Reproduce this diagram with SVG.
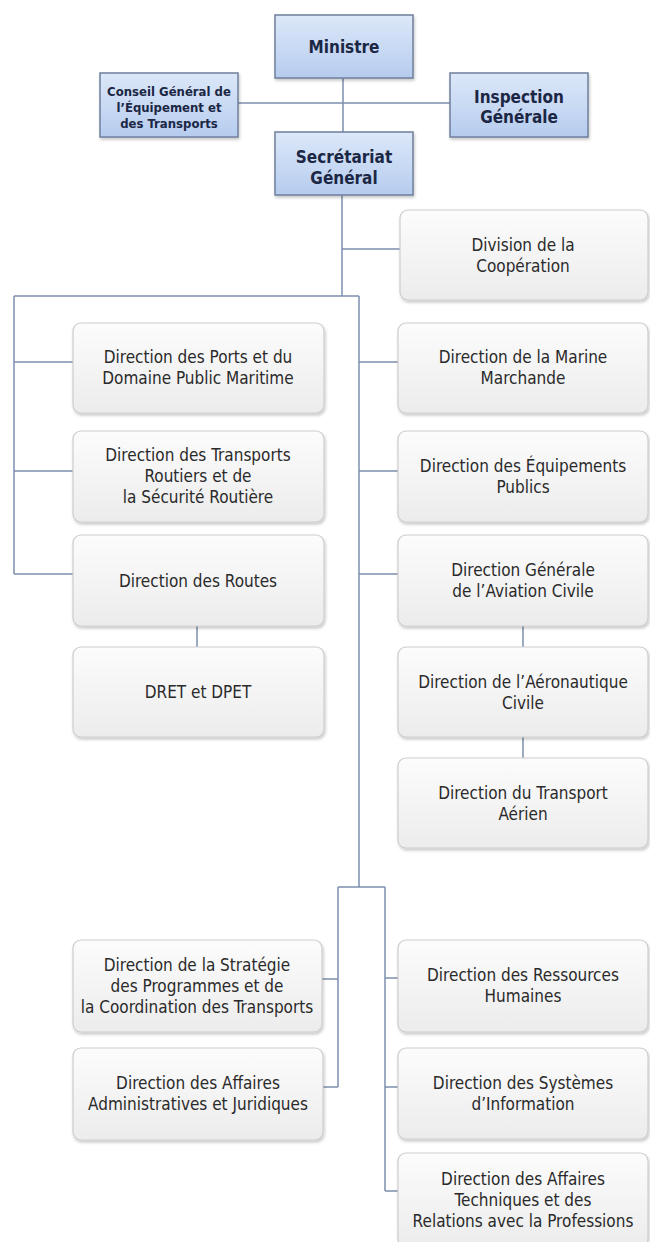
<svg xmlns="http://www.w3.org/2000/svg" width="650" height="1242" viewBox="0 0 650 1242">
<defs>
<linearGradient id="gBlue" x1="0" y1="0" x2="0" y2="1">
<stop offset="0" stop-color="#dce8f9"/>
<stop offset="1" stop-color="#b6ccee"/>
</linearGradient>
<linearGradient id="gWhite" x1="0" y1="0" x2="0" y2="1">
<stop offset="0" stop-color="#fcfcfc"/>
<stop offset="1" stop-color="#ececec"/>
</linearGradient>
<filter id="sh" x="-10%" y="-10%" width="125%" height="130%">
<feDropShadow dx="1" dy="2" stdDeviation="1.5" flood-color="#000" flood-opacity="0.22"/>
</filter>
<style>
.blue{fill:url(#gBlue);stroke:#6f7f9c;stroke-width:1.5;filter:url(#sh)}
.box{fill:url(#gWhite);stroke:#cdcdcd;stroke-width:1.2;filter:url(#sh)}
.bt{font-family:"DejaVu Sans Condensed","DejaVu Sans",sans-serif;font-stretch:condensed;font-weight:bold;font-size:17px;fill:#1b2744;text-anchor:middle}
.bs{font-family:"DejaVu Sans Condensed","DejaVu Sans",sans-serif;font-stretch:condensed;font-weight:bold;font-size:13px;fill:#1b2744;text-anchor:middle}
.t{font-family:"DejaVu Sans Condensed","DejaVu Sans",sans-serif;font-stretch:condensed;font-size:17px;fill:#2a2a2a;text-anchor:middle}
.c{fill:none;stroke:#7d90ae;stroke-width:1.5}
</style>
</defs>
<rect width="650" height="1242" fill="#fff"/>
<g id="connectors" class="c">
<path d="M343 78V132M238 103H450"/>
<path d="M342 195V296M342 249H400M14 296H359"/>
<path d="M14 296V574M14 362H73M14 471H73M14 574H73"/>
<path d="M359 296V887M359 362H398M359 471H398M359 574H398"/>
<path d="M197 626V647M523 626V647M523 737V758"/>
<path d="M338 887H385M338 887V1087M322 979H338M323 1087H338"/>
<path d="M385 887V1191M385 978H398M385 1087H398M385 1191H398"/>
</g>
<g id="ministre"><rect class="blue" x="275" y="15" width="138" height="63"/><text class="bt" x="344" y="53">Ministre</text></g>
<g id="conseil"><rect class="blue" x="100" y="73" width="138" height="64"/><text class="bs"><tspan x="169" y="96">Conseil Général de</tspan><tspan x="169" y="112">l’Équipement et</tspan><tspan x="169" y="128">des Transports</tspan></text></g>
<g id="inspection"><rect class="blue" x="450" y="73" width="138" height="64"/><text class="bt"><tspan x="519" y="103">Inspection</tspan><tspan x="519" y="123">Générale</tspan></text></g>
<g id="secretariat"><rect class="blue" x="275" y="132" width="138" height="63"/><text class="bt"><tspan x="344" y="163">Secrétariat</tspan><tspan x="344" y="184">Général</tspan></text></g>

<g id="division"><rect class="box" x="400" y="210" width="248" height="90" rx="8"/><text class="t"><tspan x="523" y="251">Division de la</tspan><tspan x="523" y="272">Coopération</tspan></text></g>
<g id="ports"><rect class="box" x="73" y="323" width="251" height="90" rx="8"/><text class="t"><tspan x="198" y="363">Direction des Ports et du</tspan><tspan x="198" y="384">Domaine Public Maritime</tspan></text></g>
<g id="marine"><rect class="box" x="398" y="323" width="250" height="90" rx="8"/><text class="t"><tspan x="523" y="363">Direction de la Marine</tspan><tspan x="523" y="384">Marchande</tspan></text></g>
<g id="transports"><rect class="box" x="73" y="431" width="251" height="91" rx="8"/><text class="t"><tspan x="198" y="461">Direction des Transports</tspan><tspan x="198" y="482">Routiers et de</tspan><tspan x="198" y="503">la Sécurité Routière</tspan></text></g>
<g id="equipements"><rect class="box" x="398" y="431" width="250" height="91" rx="8"/><text class="t"><tspan x="523" y="472">Direction des Équipements</tspan><tspan x="523" y="493">Publics</tspan></text></g>
<g id="routes"><rect class="box" x="73" y="535" width="251" height="91" rx="8"/><text class="t" x="198" y="587">Direction des Routes</text></g>
<g id="aviation"><rect class="box" x="398" y="535" width="250" height="91" rx="8"/><text class="t"><tspan x="523" y="576">Direction Générale</tspan><tspan x="523" y="597">de l’Aviation Civile</tspan></text></g>
<g id="dret"><rect class="box" x="73" y="647" width="251" height="90" rx="8"/><text class="t" x="198" y="698">DRET et DPET</text></g>
<g id="aeronautique"><rect class="box" x="398" y="647" width="250" height="90" rx="8"/><text class="t"><tspan x="523" y="688">Direction de l’Aéronautique</tspan><tspan x="523" y="709">Civile</tspan></text></g>
<g id="transport-aerien"><rect class="box" x="398" y="758" width="250" height="90" rx="8"/><text class="t"><tspan x="523" y="799">Direction du Transport</tspan><tspan x="523" y="820">Aérien</tspan></text></g>
<g id="strategie"><rect class="box" x="73" y="940" width="249" height="92" rx="8"/><text class="t"><tspan x="197" y="971">Direction de la Stratégie</tspan><tspan x="197" y="992">des Programmes et de</tspan><tspan x="197" y="1013">la Coordination des Transports</tspan></text></g>
<g id="ressources"><rect class="box" x="398" y="940" width="250" height="92" rx="8"/><text class="t"><tspan x="523" y="981">Direction des Ressources</tspan><tspan x="523" y="1002">Humaines</tspan></text></g>
<g id="affaires-admin"><rect class="box" x="73" y="1048" width="250" height="92" rx="8"/><text class="t"><tspan x="198" y="1089">Direction des Affaires</tspan><tspan x="198" y="1110">Administratives et Juridiques</tspan></text></g>
<g id="systemes"><rect class="box" x="398" y="1048" width="250" height="91" rx="8"/><text class="t"><tspan x="523" y="1089">Direction des Systèmes</tspan><tspan x="523" y="1110">d’Information</tspan></text></g>
<g id="affaires-tech"><rect class="box" x="398" y="1153" width="250" height="94" rx="8"/><text class="t"><tspan x="523" y="1185">Direction des Affaires</tspan><tspan x="523" y="1206">Techniques et des</tspan><tspan x="523" y="1227">Relations avec la Professions</tspan></text></g>
</svg>
